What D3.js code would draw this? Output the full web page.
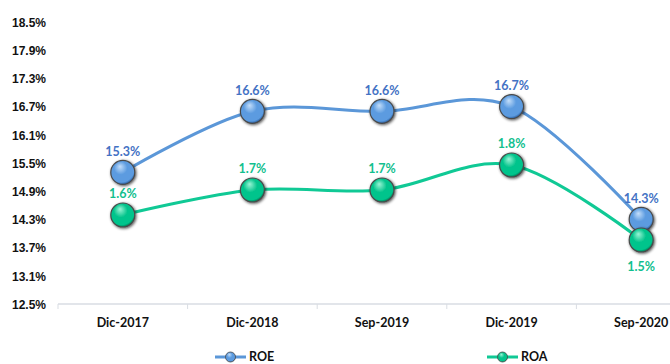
<!DOCTYPE html>
<html>
<head>
<meta charset="utf-8">
<script src="https://cdn.jsdelivr.net/npm/d3@7/dist/d3.min.js"></script>
<style>
  html, body { margin: 0; padding: 0; background: #fff; }
  svg { display: block; font-family: Lato, "Open Sans", "Liberation Sans", sans-serif; }
</style>
</head>
<body>
<svg id="chart" width="670" height="364"></svg>
<script>
// Periods on the x axis
const categories = ["Dic-2017", "Dic-2018", "Sep-2019", "Dic-2019", "Sep-2020"];
// Return on equity (%), primary axis
const roeValues = [15.3, 16.6, 16.6, 16.7, 14.3];
// Return on assets (%), secondary (hidden) axis
const roaValues = [1.6, 1.7, 1.7, 1.8, 1.5];
// Primary axis ticks (%)
const yTicks = [12.5, 13.1, 13.7, 14.3, 14.9, 15.5, 16.1, 16.7, 17.3, 17.9, 18.5];
const seriesNames = ["ROE", "ROA"];

const svg = d3.select("#chart");
const plot = { left: 58, right: 706, top: 22, bottom: 304 };

const x = d3.scaleBand().domain(categories).range([plot.left, plot.right]).paddingInner(0).paddingOuter(0);
const y = d3.scaleLinear().domain([12.5, 18.5]).range([plot.bottom, plot.top]);
const y2 = d3.scaleLinear().domain([1.244, 2.372]).range([plot.bottom, plot.top]);
const cx = c => x(c) + x.bandwidth() / 2;

const colors = {
  ROE: { line: "#5b97d8", label: "#4472c4", hi: "#c4defa", mid: "#5b9be0", dark: "#1f4f8f" },
  ROA: { line: "#10c995", label: "#12c08e", hi: "#9af5d6", mid: "#05c48c", dark: "#006a48" }
};

// Gradients and shadow for the sphere markers
const defs = svg.append("defs");
Object.keys(colors).forEach(k => {
  const c = colors[k];
  const g = defs.append("radialGradient").attr("id", "grad-" + k)
    .attr("cx", "45%").attr("cy", "40%").attr("r", "62%").attr("fx", "38%").attr("fy", "25%");
  g.append("stop").attr("offset", "0%").attr("stop-color", c.hi);
  g.append("stop").attr("offset", "45%").attr("stop-color", c.mid);
  g.append("stop").attr("offset", "85%").attr("stop-color", c.mid);
  g.append("stop").attr("offset", "100%").attr("stop-color", c.dark);
});
const f = defs.append("filter").attr("id", "shadow").attr("x", "-50%").attr("y", "-50%").attr("width", "200%").attr("height", "200%");
f.append("feGaussianBlur").attr("in", "SourceAlpha").attr("stdDeviation", 1.6).attr("result", "b");
f.append("feOffset").attr("in", "b").attr("dx", 0.5).attr("dy", 1).attr("result", "o");
f.append("feComponentTransfer").attr("in", "o").attr("result", "s")
  .append("feFuncA").attr("type", "linear").attr("slope", 0.7);
const fm = f.append("feMerge");
fm.append("feMergeNode").attr("in", "s");
fm.append("feMergeNode").attr("in", "SourceGraphic");

// Y axis labels (no axis line)
const yAxis = d3.axisLeft(y).tickValues(yTicks).tickFormat(d => d.toFixed(1) + "%").tickSize(0).tickPadding(0);
const yg = svg.append("g").attr("transform", "translate(46,0)").call(yAxis);
yg.select(".domain").remove();
yg.selectAll("text").attr("font-size", 12).attr("font-weight", 700).attr("fill", "#111").attr("dy", "0.35em");

// X axis: baseline, boundary ticks and category labels
const xg = svg.append("g");
xg.append("line").attr("x1", plot.left).attr("x2", plot.right).attr("y1", plot.bottom).attr("y2", plot.bottom)
  .attr("stroke", "#d9dde3").attr("stroke-width", 1.5);
xg.selectAll("line.tick").data(categories).join("line").attr("class", "tick")
  .attr("x1", d => x(d)).attr("x2", d => x(d)).attr("y1", plot.bottom).attr("y2", plot.bottom + 5)
  .attr("stroke", "#d9dde3").attr("stroke-width", 1);
xg.selectAll("text").data(categories).join("text")
  .attr("x", d => cx(d)).attr("y", plot.bottom + 19).attr("dy", "0.35em")
  .attr("text-anchor", "middle").attr("font-size", 12.5).attr("font-weight", 700).attr("fill", "#111")
  .text(d => d);

const line = d3.line().curve(d3.curveCardinal.tension(0));

function drawSeries(name, values, scale, labelBelow) {
  const c = colors[name];
  const pts = values.map((v, i) => [cx(categories[i]), scale(v)]);
  svg.append("path").attr("d", line(pts)).attr("fill", "none")
    .attr("stroke", c.line).attr("stroke-width", 3);
  svg.append("g").selectAll("circle").data(pts).join("circle")
    .attr("cx", d => d[0]).attr("cy", d => d[1]).attr("r", 12)
    .attr("fill", `url(#grad-${name})`).attr("stroke", "#4a4a4a").attr("stroke-width", 1.2)
    .attr("filter", "url(#shadow)");
  svg.append("g").selectAll("text").data(values).join("text")
    .attr("x", (d, i) => pts[i][0])
    .attr("y", (d, i) => labelBelow[i] ? pts[i][1] + 27 : pts[i][1] - 21)
    .attr("dy", "0.35em").attr("text-anchor", "middle")
    .attr("font-size", 12.5).attr("font-weight", 700).attr("fill", c.label)
    .text(d => d.toFixed(1) + "%");
}

drawSeries("ROE", roeValues, y, [false, false, false, false, false]);
drawSeries("ROA", roaValues, y2, [false, false, false, false, true]);

// Legend
const legendX = [215, 487];
seriesNames.forEach((name, i) => {
  const c = colors[name];
  const lg = svg.append("g").attr("transform", `translate(${legendX[i]},357)`);
  lg.append("line").attr("x1", 0).attr("x2", 31).attr("stroke", c.line).attr("stroke-width", 3);
  lg.append("circle").attr("cx", 15.5).attr("cy", 0).attr("r", 5)
    .attr("fill", `url(#grad-${name})`).attr("stroke", "#4a4a4a").attr("stroke-width", 0.8);
  lg.append("text").attr("x", 34).attr("y", 0).attr("dy", "0.35em")
    .attr("font-size", 12.5).attr("font-weight", 700).attr("fill", "#111").text(name);
});
</script>
</body>
</html>
